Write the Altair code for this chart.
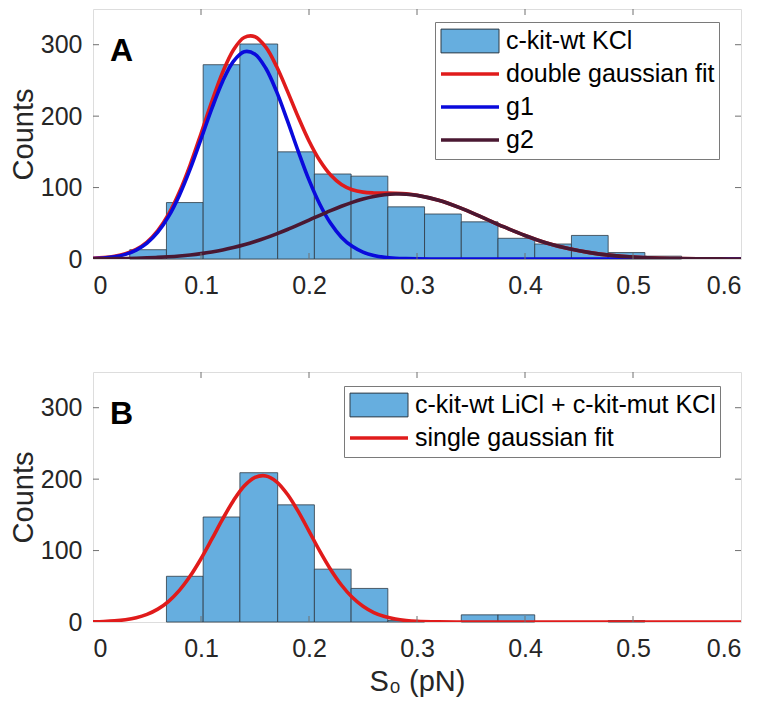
import altair as alt
import pandas as pd

FONT = "Liberation Sans"

# ---------------- data ----------------
# histogram bins (S0, pN)
bin_start = [0.034, 0.068, 0.102, 0.136, 0.171, 0.205, 0.239, 0.273,
             0.307, 0.341, 0.375, 0.409, 0.443, 0.477, 0.511]
bin_end = [0.068, 0.102, 0.136, 0.171, 0.205, 0.239, 0.273, 0.307,
           0.341, 0.375, 0.409, 0.443, 0.477, 0.511, 0.545]
counts_a = [13, 79, 272, 301, 150, 119, 116, 73, 63, 52, 29, 21, 33, 9, 4]
counts_b = [0, 64, 147, 209, 164, 74, 47, 2, 0, 10, 10, 0, 0, 2, 0]

# fitted curves
fit_x = [0.00, 0.01, 0.02, 0.03, 0.04, 0.05, 0.06, 0.07, 0.08, 0.09,
         0.10, 0.11, 0.12, 0.13, 0.14, 0.15, 0.16, 0.17, 0.18, 0.19,
         0.20, 0.21, 0.22, 0.23, 0.24, 0.25, 0.26, 0.27, 0.28, 0.29,
         0.30, 0.32, 0.34, 0.36, 0.38, 0.40, 0.42, 0.44, 0.46, 0.48,
         0.50, 0.52, 0.54, 0.56, 0.58, 0.60]
double_fit = [0.9, 1.9, 3.8, 7.3, 13.5, 23.8, 39.8, 62.7, 93.7, 131.9,
              175.4, 220.3, 261.2, 292.7, 310.1, 311.2, 296.5, 269.5, 235.0, 198.7,
              165.2, 137.8, 117.6, 104.4, 97.0, 93.6, 92.5, 92.3, 92.0, 91.2,
              89.3, 82.2, 71.5, 58.6, 45.2, 32.9, 22.5, 14.6, 8.9, 5.1,
              2.7, 1.4, 0.67, 0.30, 0.13, 0.05]
g1 = [0.7, 1.5, 3.2, 6.5, 12.4, 22.2, 37.5, 59.6, 89.4, 126.2,
      167.9, 210.5, 248.6, 276.7, 290.2, 286.8, 267.0, 234.3, 193.7, 150.9,
      110.7, 76.6, 49.9, 30.6, 17.7, 9.7, 5.0, 2.4, 1.1, 0.5,
      0.2, 0, 0, 0, 0, 0, 0, 0, 0, 0,
      0, 0, 0, 0, 0, 0]
g2 = [0.24, 0.36, 0.53, 0.78, 1.13, 1.61, 2.25, 3.12, 4.25, 5.70,
      7.54, 9.83, 12.6, 16.0, 19.9, 24.4, 29.5, 35.2, 41.3, 47.8,
      54.5, 61.2, 67.7, 73.8, 79.3, 83.9, 87.5, 89.9, 90.9, 90.7,
      89.1, 82.2, 71.5, 58.6, 45.2, 32.9, 22.5, 14.6, 8.9, 5.1,
      2.7, 1.4, 0.67, 0.30, 0.13, 0.05]
single_fit = [0.35, 0.77, 1.6, 3.2, 6.0, 10.7, 18.0, 29.0, 44.3, 64.3,
              88.6, 115.9, 144.0, 169.8, 190.3, 202.4, 204.5, 196.3, 178.8, 154.8,
              127.2, 99.2, 73.6, 51.8, 34.6, 22.0, 13.2, 7.6, 4.1, 2.1,
              1.0, 0.2, 0, 0, 0, 0, 0, 0, 0, 0,
              0, 0, 0, 0, 0, 0]

x_ticks = [0, 0.1, 0.2, 0.3, 0.4, 0.5, 0.6]
y_ticks = [0, 100, 200, 300]

legend_a = ["c-kit-wt KCl", "double gaussian fit", "g1", "g2"]
legend_b = ["c-kit-wt LiCl + c-kit-mut KCl", "single gaussian fit"]

# ---------------- styles ----------------
W, H = 648, 250
BAR_FILL = "#66AEDF"
BAR_EDGE = "#2e3a44"
RED = "#E01B1B"
BLUE = "#0A0ADC"
MAROON = "#4A1832"
FRAME = "#707070"
RECT_PATH = "M-1,-0.41L1,-0.41L1,0.41L-1,0.41Z"

xs = alt.Scale(domain=[0, 0.6], nice=False, zero=False)
ys = alt.Scale(domain=[0, 350], nice=False)


def panel(counts, curves, names, fills, strokes, widths, shapes, label,
          x_title, leg_x, leg_y):
    hist = pd.DataFrame({"lo": bin_start, "hi": bin_end, "n": counts})
    hist = hist[hist["n"] > 0]

    xaxis = alt.Axis(values=x_ticks, format=".1~f", domain=False, ticks=False,
                     grid=False, labelFontSize=25, labelFont=FONT,
                     labelColor="#262626", labelPadding=14,
                     title=x_title, titleFontSize=29, titleFont=FONT,
                     titleFontWeight="normal", titleColor="#262626",
                     titlePadding=6)
    yaxis = alt.Axis(values=y_ticks, domain=False, ticks=False, grid=False,
                     labelFontSize=25, labelFont=FONT, labelColor="#262626",
                     labelPadding=11, title="Counts", titleFontSize=29,
                     titleFont=FONT, titleFontWeight="normal",
                     titleColor="#262626", titlePadding=2)

    bars = alt.Chart(hist).mark_rect(
        fill=BAR_FILL, stroke=BAR_EDGE, strokeWidth=0.8
    ).encode(
        x=alt.X("lo:Q", scale=xs, axis=xaxis),
        x2="hi:Q",
        y=alt.Y("n:Q", scale=ys, axis=yaxis),
        y2=alt.datum(0),
    )

    layers = [bars]
    for vals, col in curves:
        df = pd.DataFrame({"x": fit_x, "y": vals})
        layers.append(
            alt.Chart(df).mark_line(color=col, strokeWidth=3.6,
                                    interpolate="catmull-rom", clip=True)
            .encode(x=alt.X("x:Q", scale=xs), y=alt.Y("y:Q", scale=ys))
        )

    # inward MATLAB-style ticks on all four sides
    xt = pd.DataFrame({"t": x_ticks[1:-1]})
    yt = pd.DataFrame({"t": y_ticks[1:]})
    tick_style = dict(color=FRAME, strokeWidth=1)
    layers += [
        alt.Chart(xt).mark_rule(**tick_style).encode(
            x=alt.X("t:Q", scale=xs), y=alt.value(H), y2=alt.value(H - 6)),
        alt.Chart(xt).mark_rule(**tick_style).encode(
            x=alt.X("t:Q", scale=xs), y=alt.value(0), y2=alt.value(6)),
        alt.Chart(yt).mark_rule(**tick_style).encode(
            y=alt.Y("t:Q", scale=ys), x=alt.value(0), x2=alt.value(6)),
        alt.Chart(yt).mark_rule(**tick_style).encode(
            y=alt.Y("t:Q", scale=ys), x=alt.value(W), x2=alt.value(W - 6)),
    ]

    # panel letter
    layers.append(
        alt.Chart(pd.DataFrame({"t": [label]})).mark_text(
            font=FONT, fontSize=32, fontWeight="bold", color="black",
            align="left", baseline="middle"
        ).encode(text="t:N", x=alt.value(17), y=alt.value(42))
    )

    # legend (drawn from scales only; no marks of its own)
    leg = alt.Legend(
        title=None, orient="none", legendX=leg_x, legendY=leg_y,
        strokeColor="#7a7a7a", fillColor="white", padding=4,
        labelFont=FONT, labelFontSize=25, labelColor="black",
        labelOffset=5, labelLimit=500, symbolSize=3364, clipHeight=30,
        rowPadding=3, symbolOpacity=1,
    )
    legend_layer = alt.Chart(pd.DataFrame({"s": names})).transform_filter(
        "false").mark_point().encode(
        shape=alt.Shape("s:N", scale=alt.Scale(domain=names, range=shapes),
                        legend=leg),
        fill=alt.Fill("s:N", scale=alt.Scale(domain=names, range=fills),
                      legend=leg),
        stroke=alt.Stroke("s:N", scale=alt.Scale(domain=names, range=strokes),
                          legend=leg),
        strokeWidth=alt.StrokeWidth("s:N", scale=alt.Scale(
            type="ordinal", domain=names, range=widths), legend=leg),
    )
    layers.append(legend_layer)

    return alt.layer(*layers).properties(width=W, height=H).resolve_scale(
        x="shared", y="shared")


chart_a = panel(
    counts_a,
    [(double_fit, RED), (g1, BLUE), (g2, MAROON)],
    legend_a,
    [BAR_FILL, "transparent", "transparent", "transparent"],
    [BAR_EDGE, RED, BLUE, MAROON],
    [1, 3.6, 3.6, 3.6],
    [RECT_PATH, "stroke", "stroke", "stroke"],
    "A", None, 342, 13,
)
chart_b = panel(
    counts_b,
    [(single_fit, RED)],
    legend_b,
    [BAR_FILL, "transparent"],
    [BAR_EDGE, RED],
    [1, 3.6],
    [RECT_PATH, "stroke"],
    "B", "S₀ (pN)", 251, 14,
)

chart = alt.vconcat(chart_a, chart_b, spacing=72).resolve_scale(
    x="independent", y="independent", fill="independent",
    stroke="independent", shape="independent", strokeWidth="independent"
).resolve_legend(
    fill="independent", stroke="independent", shape="independent",
    strokeWidth="independent"
).configure_view(
    stroke=FRAME, strokeWidth=1
).configure(
    font=FONT
).properties(
    padding={"left": 0, "top": 0, "right": 0, "bottom": 0},
    background="white",
)

chart.save("out.html", embed_options={"renderer": "svg", "actions": False})
